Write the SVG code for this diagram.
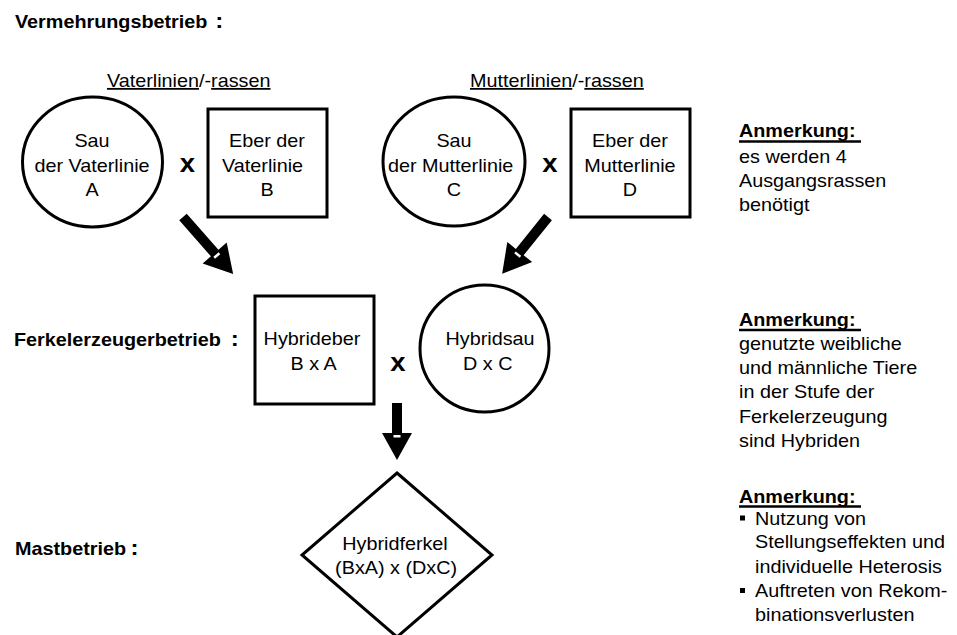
<svg xmlns="http://www.w3.org/2000/svg" width="957" height="635" viewBox="0 0 957 635">
  <style>
    .t { font-family: "Liberation Sans", Arial, sans-serif; font-size: 18px; fill: #000; }
    .b { font-weight: bold; }
    .c { text-anchor: middle; }
    .u { text-decoration: underline; }
    .colon { font-size: 22px; font-weight: bold; }
    .cross { font-family: "Liberation Sans", Arial, sans-serif; font-size: 25px; font-weight: bold; text-anchor: middle; }
    .shape { fill: #fff; stroke: #000; stroke-width: 3; }
    .arrow { fill: #000; }
    .notch { fill: #fff; }
    .rule { stroke: #000; stroke-width: 2.5; }
    .bullet { fill: #000; }
  </style>

  <rect width="957" height="635" fill="#fff"/>

  <!-- stage headings -->
  <g id="stage-labels">
    <text class="t b" transform="matrix(1.1 0 0 1 15 27.5)">Vermehrungsbetrieb<tspan class="colon" x="182">:</tspan></text>
    <text class="t b" transform="matrix(1.1 0 0 1 14 346)">Ferkelerzeugerbetrieb<tspan class="colon" x="197">:</tspan></text>
    <text class="t b" transform="matrix(1.1 0 0 1 15 555)">Mastbetrieb<tspan class="colon" x="105">:</tspan></text>
  </g>

  <!-- line headings -->
  <g id="line-headings">
    <text class="t" transform="matrix(1.1 0 0 1 107 87)"><tspan class="u">Vaterlinien</tspan>/-<tspan class="u">rassen</tspan></text>
    <text class="t" transform="matrix(1.1 0 0 1 470 87)"><tspan class="u">Mutterlinien</tspan>/-<tspan class="u">rassen</tspan></text>
  </g>

  <!-- breeding stage -->
  <g id="node-sau-a">
    <ellipse class="shape" cx="92.5" cy="162" rx="70" ry="65"/>
    <text class="t c" transform="matrix(1.1 0 0 1 92 147)"><tspan x="0" y="0">Sau</tspan><tspan x="0" y="25">der Vaterlinie</tspan><tspan x="0" y="49">A</tspan></text>
  </g>

  <g id="node-eber-b">
    <rect class="shape" x="208" y="109" width="119" height="108"/>
    <text class="t c" transform="matrix(1.1 0 0 1 267 147)"><tspan x="0" y="0">Eber der</tspan><tspan x="-4" y="25">Vaterlinie</tspan><tspan x="0" y="49">B</tspan></text>
  </g>

  <g id="node-sau-c">
    <ellipse class="shape" cx="454" cy="161.5" rx="71" ry="64.5"/>
    <text class="t c" transform="matrix(1.1 0 0 1 454 147)"><tspan x="0" y="0">Sau</tspan><tspan x="-3" y="25">der Mutterlinie</tspan><tspan x="0" y="49">C</tspan></text>
  </g>

  <g id="node-eber-d">
    <rect class="shape" x="571" y="109" width="119" height="108"/>
    <text class="t c" transform="matrix(1.1 0 0 1 630 147)"><tspan x="0" y="0">Eber der</tspan><tspan x="0" y="25">Mutterlinie</tspan><tspan x="0" y="49">D</tspan></text>
  </g>

  <!-- piglet production stage -->
  <g id="node-hybrideber">
    <rect class="shape" x="255" y="296" width="119" height="108"/>
    <text class="t c" transform="matrix(1.1 0 0 1 312 345)"><tspan x="0" y="0">Hybrideber</tspan><tspan x="1.5" y="25">B x A</tspan></text>
  </g>

  <g id="node-hybridsau">
    <ellipse class="shape" cx="484.5" cy="348.5" rx="64.5" ry="63.5"/>
    <text class="t c" transform="matrix(1.1 0 0 1 490 345)"><tspan x="0" y="0">Hybridsau</tspan><tspan x="-2" y="25">D x C</tspan></text>
  </g>

  <!-- fattening stage -->
  <g id="node-hybridferkel">
    <polygon class="shape" points="397,473 492,555 397,637 302,555"/>
    <text class="t c" transform="matrix(1.1 0 0 1 395 550)"><tspan x="0" y="0">Hybridferkel</tspan><tspan x="1" y="24">(BxA) x (DxC)</tspan></text>
  </g>

  <!-- crossing marks -->
  <g id="cross-marks">
    <text class="cross" transform="matrix(1.1 0 0 1 187.5 172)">x</text>
    <text class="cross" transform="matrix(1.1 0 0 1 550 172)">x</text>
    <text class="cross" transform="matrix(1.1 0 0 1 398 371)">x</text>
  </g>

  <!-- block arrows between stages -->
  <g id="connectors">
    <g transform="translate(183 217) rotate(-41.3)">
      <path class="arrow" d="M-5,0 L5,0 L5,48 L16,48 L0,76 L-16,48 L-5,48 Z"/>
      <rect class="notch" x="-3.5" y="50" width="7" height="2.5"/>
    </g>
    <g transform="translate(548 217) rotate(38.9)">
      <path class="arrow" d="M-5,0 L5,0 L5,45 L16,45 L0,73 L-16,45 L-5,45 Z"/>
      <rect class="notch" x="-3.5" y="47" width="7" height="2.5"/>
    </g>
    <g transform="translate(397 403)">
      <path class="arrow" d="M-5,0 L5,0 L5,30 L15,30 L0,57 L-15,30 L-5,30 Z"/>
      <rect class="notch" x="-3.5" y="32" width="7" height="2.5"/>
    </g>
  </g>

  <!-- side notes -->
  <g id="note-1">
    <text class="t b" transform="matrix(1.1 0 0 1 739 137)">Anmerkung:</text>
    <line class="rule" x1="739" y1="141.5" x2="861" y2="141.5"/>
    <text class="t" transform="matrix(1.1 0 0 1 739 162.5)"><tspan x="0" y="0">es werden 4</tspan><tspan x="0" y="24.3">Ausgangsrassen</tspan><tspan x="0" y="48.5">benötigt</tspan></text>
  </g>

  <g id="note-2">
    <text class="t b" transform="matrix(1.1 0 0 1 739 325.5)">Anmerkung:</text>
    <line class="rule" x1="739" y1="330" x2="861" y2="330"/>
    <text class="t" transform="matrix(1.1 0 0 1 739 349.5)"><tspan x="0" y="0">genutzte weibliche</tspan><tspan x="0" y="24.4">und männliche Tiere</tspan><tspan x="0" y="48.8">in der Stufe der</tspan><tspan x="0" y="73.2">Ferkelerzeugung</tspan><tspan x="0" y="97.6">sind Hybriden</tspan></text>
  </g>

  <g id="note-3">
    <text class="t b" transform="matrix(1.1 0 0 1 739 502.5)">Anmerkung:</text>
    <line class="rule" x1="739" y1="506.5" x2="861" y2="506.5"/>
    <rect class="bullet" x="740" y="515.5" width="5" height="5"/>
    <rect class="bullet" x="740" y="588" width="5" height="5"/>
    <text class="t" transform="matrix(1.1 0 0 1 755 524.5)"><tspan x="0" y="0">Nutzung von</tspan><tspan x="0" y="24">Stellungseffekten und</tspan><tspan x="0" y="48.2">individuelle Heterosis</tspan><tspan x="0" y="72.2">Auftreten von Rekom-</tspan><tspan x="0" y="96.2">binationsverlusten</tspan></text>
  </g>
</svg>
